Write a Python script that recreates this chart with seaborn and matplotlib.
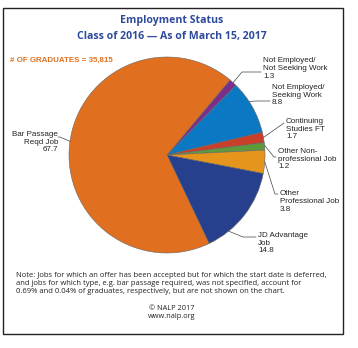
import matplotlib
matplotlib.use("Agg")
import matplotlib.pyplot as plt
import seaborn as sns
import numpy as np
from matplotlib.lines import Line2D
from matplotlib.patches import Rectangle

# ---- data ----
categories = ["Not Employed/\nNot Seeking Work", "Not Employed/\nSeeking Work",
              "Continuing\nStudies FT", "Other Non-\nprofessional Job",
              "Other\nProfessional Job", "JD Advantage\nJob", "Bar Passage\nReqd Job"]
values = [1.3, 8.8, 1.7, 1.2, 3.8, 14.8, 67.7]
value_labels = ["1.3", "8.8", "1.7", "1.2", "3.8", "14.8", "67.7"]
colors = ["#7B2F8C", "#0A78C2", "#C9402A", "#5E9A3C", "#E5951B", "#26408E", "#E0701F"]

sns.set_theme(style="white")
plt.rcParams['font.family'] = ['Liberation Sans', 'DejaVu Sans']

W, H = 358, 348
fig = plt.figure(figsize=(W / 100, H / 100), dpi=100)
fig.patch.set_facecolor("white")

def fx(x, y):
    return (x / W, 1 - y / H)

# frame
fig.add_artist(Rectangle(fx(3, 334), 340 / W, 326 / H, transform=fig.transFigure,
                         fill=False, edgecolor="#222222", lw=1.0))

cx, cy, r = 167, 155, 98
ax = fig.add_axes([(cx - r) / W, 1 - (cy + r) / H, 2 * r / W, 2 * r / H])
wedges, _ = ax.pie(values, colors=colors, startangle=50, counterclock=False,
                   wedgeprops=dict(edgecolor="#666666", linewidth=0.4))
ax.set_xlim(-1, 1)
ax.set_ylim(-1, 1)
ax.axis("off")

# title
title_col = "#2D4A9B"
fig.text(*fx(172, 21), "Employment Status", ha="center", va="center",
         fontsize=7.6, color=title_col, family=["Open Sans", "DejaVu Sans"], weight="bold")
fig.text(*fx(172, 36), "Class of 2016 \u2014 As of March 15, 2017", ha="center", va="center",
         fontsize=7.6, color=title_col, family=["Open Sans", "DejaVu Sans"], weight="bold")
fig.text(*fx(10, 60), "# OF GRADUATES = 35,815", ha="left", va="center",
         fontsize=5.7, color="#E0701F", weight="bold")

# label layout: (anchor angle deg, elbow px, end px, text px, ha)
layout = [
    (47.6, (242, 72), (261, 72), (263, 57), "left"),
    (33.0, (255, 101), (270, 101), (272, 84), "left"),
    (10.3, (284, 123), (284, 123), (286, 118), "left"),
    (5.7, (274, 157), (276, 157), (278, 148), "left"),
    (-4.0, (275, 194), (278, 194), (280, 190), "left"),
    (-51.0, (243, 237), (256, 237), (258, 232), "left"),
    (172.0, (60, 137), (58, 137), (58, 131), "right"),
]

for (ang, elbow, end, tpos, ha), cat, vl in zip(layout, categories, value_labels):
    a = np.deg2rad(ang)
    ax_pt = ax.transData.transform((np.cos(a), np.sin(a)))
    fig_pt = fig.transFigure.inverted().transform(ax_pt)
    xs = [fig_pt[0], fx(*elbow)[0], fx(*end)[0]]
    ys = [fig_pt[1], fx(*elbow)[1], fx(*end)[1]]
    fig.add_artist(Line2D(xs, ys, transform=fig.transFigure, color="#444444", lw=0.5))
    fig.text(*fx(*tpos), cat + "\n" + vl, ha=ha, va="top", fontsize=5.8,
             color="#222222", linespacing=1.15, multialignment=ha)

note = ("Note: Jobs for which an offer has been accepted but for which the start date is deferred,\n"
        "and jobs for which type, e.g. bar passage required, was not specified, account for\n"
        "0.69% and 0.04% of graduates, respectively, but are not shown on the chart.")
fig.text(*fx(16, 272), note, ha="left", va="top", fontsize=5.5, color="#222222",
         family=["Open Sans", "DejaVu Sans"], linespacing=1.2)
fig.text(*fx(172, 305), "\u00a9 NALP 2017\nwww.nalp.org", ha="center", va="top",
         fontsize=5.3, color="#222222", family=["Open Sans", "DejaVu Sans"], linespacing=1.1)

fig.savefig("out.png", dpi=100, facecolor="white")
